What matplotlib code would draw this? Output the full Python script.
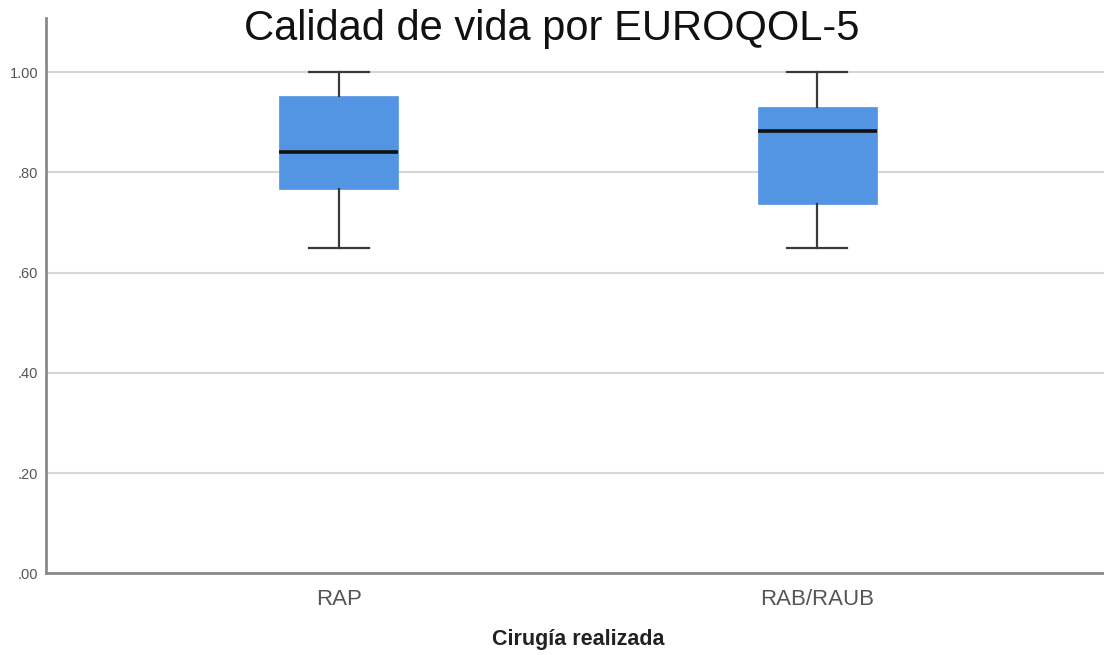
import matplotlib.pyplot as plt
from matplotlib.ticker import FuncFormatter

plt.rcParams['font.family'] = ['Liberation Sans', 'DejaVu Sans']

# box plot summary
groups = ["RAP", "RAB/RAUB"]
whislo = [0.65, 0.65]
q1 = [0.766, 0.737]
med = [0.841, 0.883]
q3 = [0.953, 0.930]
whishi = [1.00, 1.00]

stats = []
for i, name in enumerate(groups):
    stats.append(dict(label=name, whislo=whislo[i], q1=q1[i], med=med[i],
                      q3=q3[i], whishi=whishi[i], fliers=[]))

fig = plt.figure(figsize=(11.04, 6.55), dpi=100)
ax = fig.add_axes([46 / 1104, 81.7 / 655, 1064 / 1104, 555.3 / 655])

ax.bxp(stats, positions=[0, 1], widths=0.25, patch_artist=True,
       showfliers=False,
       boxprops=dict(facecolor="#5394e3", edgecolor="#5394e3", linewidth=0.5),
       medianprops=dict(color="#111111", linewidth=2.6),
       whiskerprops=dict(color="#3a3a3a", linewidth=1.6),
       capprops=dict(color="#3a3a3a", linewidth=1.6),
       capwidths=0.125, zorder=3)

ax.set_xlim(-0.611, 1.611)
ax.set_ylim(0, 1.108)
ax.set_yticks([0, 0.2, 0.4, 0.6, 0.8, 1.0])
ax.yaxis.set_major_formatter(FuncFormatter(
    lambda v, p: "1.00" if v >= 1 else f"{v:.2f}".lstrip("0")))
ax.grid(axis="y", color="#d6d6d6", linewidth=1.5, zorder=0)
ax.set_axisbelow(True)

for s in ["top", "right"]:
    ax.spines[s].set_visible(False)
for s in ["left", "bottom"]:
    ax.spines[s].set_color("#8a8a8a")
    ax.spines[s].set_linewidth(2)

ax.tick_params(axis="y", length=0, pad=5.5, labelsize=10.5, labelcolor="#555555")
ax.tick_params(axis="x", length=0, pad=11, labelsize=16, labelcolor="#555555")

fig.text(552 / 1104, 1 - 29 / 655, "Calidad de vida por EUROQOL-5",
         fontsize=30, ha="center", va="center", color="#111111")
fig.text(578 / 1104, 1 - 640 / 655, "Cirugía realizada",
         fontsize=15.5, fontweight="bold", ha="center", va="center",
         color="#222222")

fig.savefig("out.png", dpi=100)
